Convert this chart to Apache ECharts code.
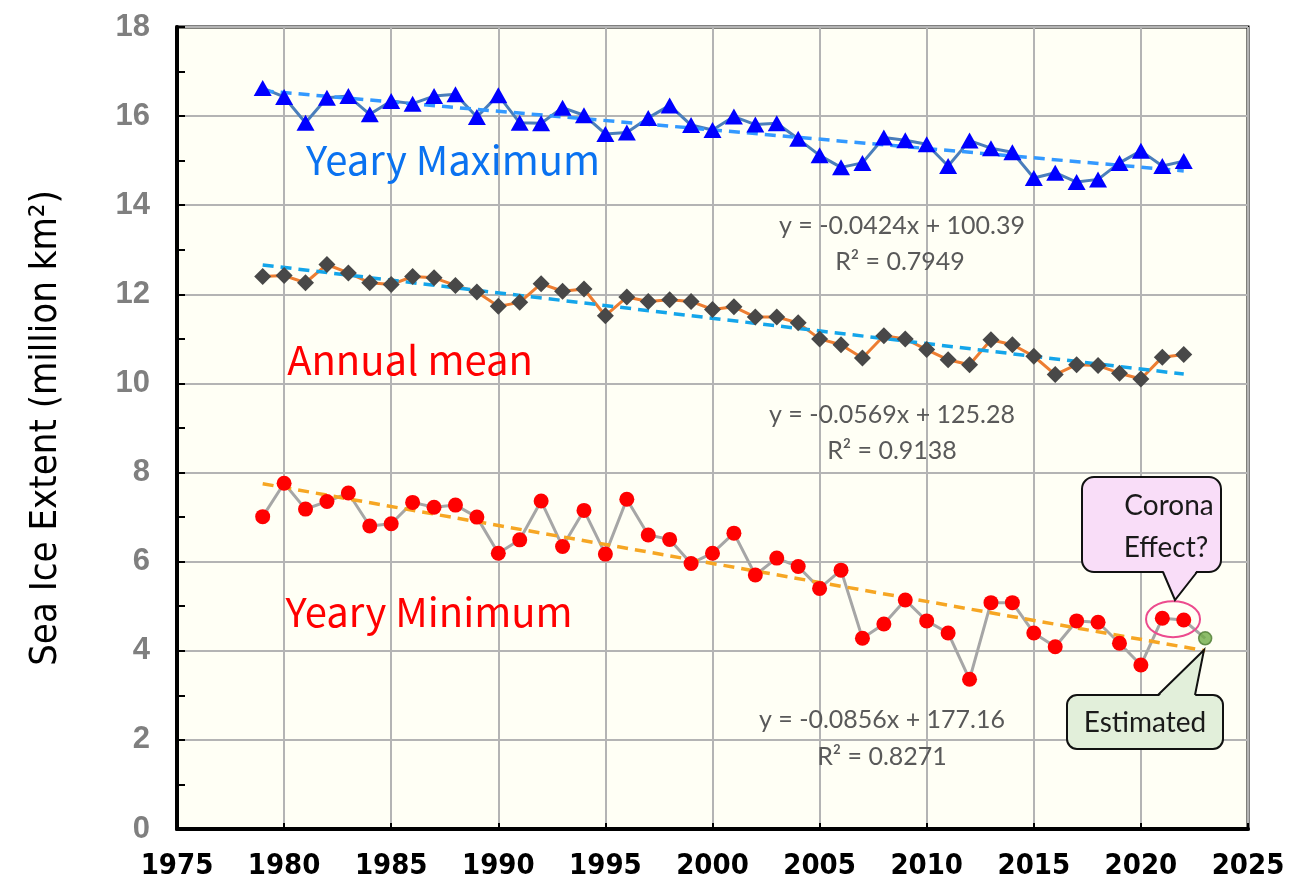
<!DOCTYPE html>
<html>
<head>
<meta charset="utf-8">
<script src="https://cdn.jsdelivr.net/npm/echarts@6/dist/echarts.min.js"></script>
<style>
html,body{margin:0;padding:0;background:#fff;}
#chart{width:1302px;height:888px;}
</style>
</head>
<body>
<div id="chart"></div>
<script>
// ---- data ----
const years = [1979,1980,1981,1982,1983,1984,1985,1986,1987,1988,1989,1990,1991,1992,1993,1994,1995,1996,1997,1998,1999,2000,2001,2002,2003,2004,2005,2006,2007,2008,2009,2010,2011,2012,2013,2014,2015,2016,2017,2018,2019,2020,2021,2022];
const maxVals = [16.63,16.43,15.85,16.41,16.45,16.04,16.34,16.28,16.45,16.49,15.98,16.47,15.85,15.84,16.19,16.02,15.60,15.63,15.96,16.24,15.80,15.69,15.99,15.81,15.84,15.49,15.12,14.85,14.95,15.52,15.46,15.37,14.88,15.45,15.28,15.19,14.61,14.73,14.52,14.58,14.95,15.22,14.88,14.99];
const meanVals = [12.40,12.42,12.26,12.67,12.48,12.26,12.22,12.40,12.37,12.20,12.05,11.73,11.82,12.24,12.07,12.12,11.52,11.94,11.84,11.88,11.84,11.66,11.72,11.49,11.49,11.36,11.00,10.87,10.57,11.07,11.00,10.76,10.53,10.42,10.98,10.87,10.61,10.20,10.42,10.40,10.23,10.10,10.59,10.65];
const minVals = [7.01,7.76,7.18,7.35,7.54,6.80,6.85,7.33,7.22,7.27,7.00,6.19,6.49,7.36,6.34,7.15,6.17,7.40,6.60,6.50,5.96,6.19,6.64,5.70,6.08,5.89,5.40,5.81,4.28,4.60,5.14,4.67,4.40,3.36,5.08,5.08,4.40,4.09,4.67,4.64,4.17,3.68,4.73,4.69];
const estYear = [2023];
const estVal = [4.28];
const maxTrendX = [1979, 2022], maxTrendY = [16.57, 14.77];
const meanTrendX = [1979, 2022], meanTrendY = [12.66, 10.21];
const minTrendX = [1979, 2023], minTrendY = [7.75, 4.00];
const coronaYears = [2021, 2022];
const xTicks = {min:1975, max:2025, step:5};
const yTicks = {min:0, max:18, step:2};
const eqMax = ['y = -0.0424x + 100.39', 'R² = 0.7949'];
const eqMean = ['y = -0.0569x + 125.28', 'R² = 0.9138'];
const eqMin = ['y = -0.0856x + 177.16', 'R² = 0.8271'];

const zip = (xs, ys) => xs.map((x, i) => [x, ys[i]]);
const minWithEst = zip(years, minVals).concat(zip(estYear, estVal));

const chart = echarts.init(document.getElementById('chart'), null, {renderer:'canvas'});
const GRID = {left:177, right:54, top:27, bottom:59};
const narrow = '"DejaVu Sans Condensed","Liberation Sans Narrow","Arial Narrow","Liberation Sans",sans-serif';

const lineSeries = (data, color, z) => ({type:'line', data, showSymbol:false, symbol:'none', lineStyle:{color, width:3}, z, silent:true, animation:false});
const trendSeries = (data, color) => ({type:'line', data, symbol:'none', lineStyle:{color, width:3.5, type:[11,7]}, z:4, silent:true, animation:false});
const markSeries = (data, symbol, size, color, extra) => Object.assign({type:'scatter', data, symbol, symbolSize:size, itemStyle:{color, opacity:1}, z:5, silent:true, animation:false}, extra||{});

const option = {
  backgroundColor:'#ffffff',
  animation:false,
  grid:Object.assign({show:true, backgroundColor:'#FFFFF5', borderColor:'#000', borderWidth:3}, GRID),
  xAxis:{type:'value', min:xTicks.min, max:xTicks.max, interval:xTicks.step,
    axisLine:{show:true, onZero:false, lineStyle:{color:'#000', width:4}},
    axisTick:{show:true, inside:true, length:6, lineStyle:{color:'#000', width:2}},
    splitLine:{show:true, lineStyle:{color:'#B4B4B4', width:2}},
    axisLabel:{color:'#000', fontSize:29, fontWeight:'bold', fontFamily:narrow, margin:23, formatter:v=>String(v)}
  },
  yAxis:{type:'value', min:yTicks.min, max:yTicks.max, interval:yTicks.step,
    name:'Sea Ice Extent (million km²)', nameLocation:'middle', nameGap:112, nameRotate:90,
    nameTextStyle:{color:'#000', fontSize:38, fontFamily:narrow},
    axisLine:{show:true, lineStyle:{color:'#000', width:4}},
    axisTick:{show:true, inside:true, length:8, lineStyle:{color:'#000', width:2}},
    minorTick:{show:true, splitNumber:2, length:8, lineStyle:{color:'#000', width:2}},
    splitLine:{show:true, lineStyle:{color:'#B4B4B4', width:2}},
    axisLabel:{color:'#7F7F7F', fontSize:31, fontWeight:'bold', fontFamily:'"Liberation Sans",Arial,sans-serif', margin:27}
  },
  series:[
    lineSeries(zip(years, maxVals), '#4A7EBB', 2),
    lineSeries(zip(years, meanVals), '#ED7D31', 2),
    lineSeries(minWithEst, '#A6A6A6', 2),
    trendSeries(zip(maxTrendX, maxTrendY), '#3399FF'),
    trendSeries(zip(meanTrendX, meanTrendY), '#14A5EA'),
    trendSeries(zip(minTrendX, minTrendY), '#F6A623'),
    markSeries(zip(years, maxVals), 'triangle', [18,16], '#0000FF'),
    markSeries(zip(years, meanVals), 'diamond', [17,17], '#484848'),
    markSeries(zip(years, minVals), 'circle', 15, '#FF0000'),
    markSeries(zip(estYear, estVal), 'circle', 13, '#70AD47', {itemStyle:{color:'#70AD47', borderColor:'#4E7A33', borderWidth:1.5}})
  ]
};
chart.setOption(option);

// ---- annotations ----
const bigFont = '"Noto Sans CJK JP","Noto Sans",sans-serif';
const eqFont = 'Lato,"Open Sans",sans-serif';
const txt = (x, y, text, color, size, family, extra) => ({type:'text', x, y, z:20, silent:true,
  style:Object.assign({text, fill:color, fontSize:size, fontFamily:family, align:'center', verticalAlign:'middle'}, extra||{})});

// ellipse around the corona points, from data coordinates
const c1 = chart.convertToPixel({gridIndex:0}, [coronaYears[0], minVals[years.indexOf(coronaYears[0])]]);
const c2 = chart.convertToPixel({gridIndex:0}, [coronaYears[1], minVals[years.indexOf(coronaYears[1])]]);
const ecx = (c1[0] + c2[0]) / 2, ecy = (c1[1] + c2[1]) / 2;

const graphics = [
  txt(453, 160, 'Yeary Maximum', '#0A72F0', 40, bigFont),
  txt(410, 360, 'Annual mean', '#FF0000', 40, bigFont),
  txt(429, 612, 'Yeary Minimum', '#FF0000', 40, bigFont),
  txt(902, 226, eqMax[0], '#595959', 25, eqFont),
  txt(900, 262, eqMax[1], '#595959', 25, eqFont),
  txt(892, 415, eqMean[0], '#595959', 25, eqFont),
  txt(892, 451, eqMean[1], '#595959', 25, eqFont),
  txt(882, 720, eqMin[0], '#595959', 25, eqFont),
  txt(882, 757, eqMin[1], '#595959', 25, eqFont),
  {type:'ellipse', z:19, silent:true, shape:{cx:ecx, cy:ecy, rx:27, ry:18}, style:{fill:'none', stroke:'#EC4B8E', lineWidth:2}},
  // Corona callout
  {type:'rect', z:20, silent:true, shape:{x:1082, y:477, width:139, height:95, r:12}, style:{fill:'#F9DDF8', stroke:'#111', lineWidth:2}},
  {type:'polygon', z:21, silent:true, shape:{points:[[1163,570],[1175,600],[1197,570]]}, style:{fill:'#F9DDF8'}},
  {type:'polyline', z:21, silent:true, shape:{points:[[1163,572],[1175,600],[1197,572]]}, style:{stroke:'#111', lineWidth:2, fill:'none'}},
  txt(1169, 506, 'Corona', '#1A1A1A', 28, eqFont),
  txt(1166, 548, 'Effect?', '#1A1A1A', 28, eqFont),
  // Estimated callout
  {type:'rect', z:20, silent:true, shape:{x:1067, y:695, width:156, height:54, r:10}, style:{fill:'#E2EFDA', stroke:'#111', lineWidth:2}},
  {type:'polygon', z:21, silent:true, shape:{points:[[1158,697],[1204,650],[1195,697]]}, style:{fill:'#E2EFDA'}},
  {type:'polyline', z:21, silent:true, shape:{points:[[1158,695],[1204,650],[1195,695]]}, style:{stroke:'#111', lineWidth:2, fill:'none'}},
  txt(1145, 723, 'Estimated', '#1A1A1A', 28, eqFont)
];
chart.setOption({graphic:graphics});
</script>
</body>
</html>
